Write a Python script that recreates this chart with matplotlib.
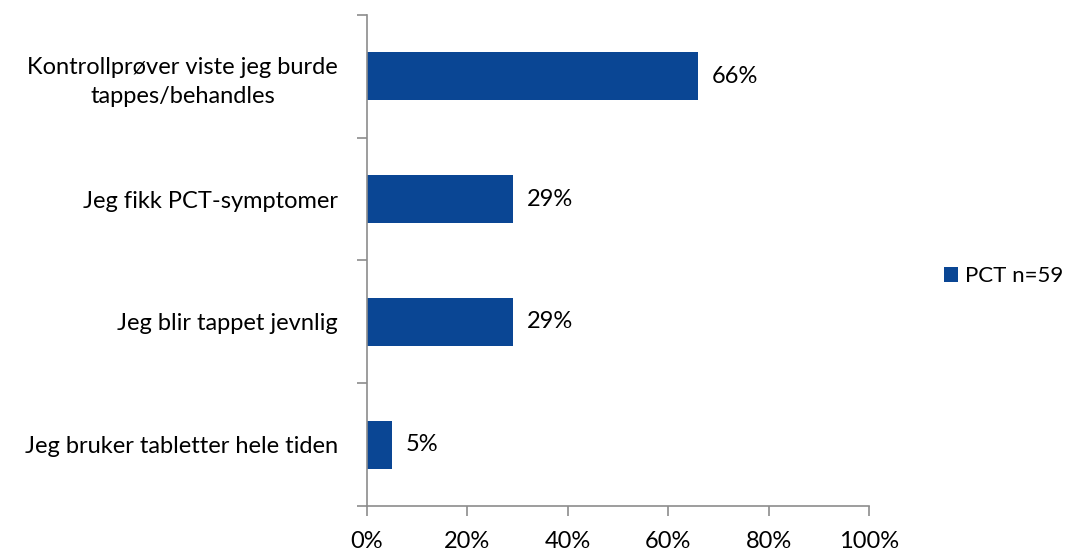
import numpy as np
import matplotlib.pyplot as plt
from matplotlib.ticker import FixedLocator

plt.rcParams['font.family'] = ['Lato', 'DejaVu Sans']

categories = ["Kontrollprøver viste jeg burde\ntappes/behandles",
              "Jeg fikk PCT-symptomer",
              "Jeg blir tappet jevnlig",
              "Jeg bruker tabletter hele tiden"]
values = [0.66, 0.29, 0.29, 0.05]
series_name = "PCT n=59"
xticks = [0, 0.2, 0.4, 0.6, 0.8, 1.0]
xticklabels = ["0%", "20%", "40%", "60%", "80%", "100%"]

color = "#0A4694"
grey = "#8C8C8C"
fs = 17

fig = plt.figure(figsize=(10.65, 5.51), dpi=100)
ax = fig.add_axes([0.3446, 0.0817, 0.4714, 0.8911])

y = np.arange(len(categories))
bars = ax.barh(y, values, height=0.39, color=color, label=series_name)
ax.set_ylim(len(categories) - 0.5, -0.5)
ax.set_xlim(0, 1)

for yi, v in zip(y, values):
    ax.annotate("%d%%" % round(v * 100), (v, yi), xytext=(10, 0),
                textcoords="offset points", va="center", ha="left", fontsize=fs)

ax.set_yticks(y)
ax.set_yticklabels(categories, fontsize=fs, ha="right", multialignment="center",
                   linespacing=1.45)
ax.tick_params(axis="y", which="major", length=0, pad=21)
ax.yaxis.set_minor_locator(FixedLocator(np.arange(-0.5, len(categories), 1.0)))
ax.tick_params(axis="y", which="minor", length=7, color=grey, width=1.2)

ax.set_xticks(xticks)
ax.set_xticklabels(xticklabels, fontsize=fs)
ax.tick_params(axis="x", length=7, color=grey, width=1.2, pad=11)

for s in ["top", "right"]:
    ax.spines[s].set_visible(False)
for s in ["left", "bottom"]:
    ax.spines[s].set_color(grey)
    ax.spines[s].set_linewidth(1.2)

fig.legend(handles=[bars], labels=[series_name], loc="center left",
           bbox_to_anchor=(0.886, 0.499), frameon=False, fontsize=16,
           borderpad=0, borderaxespad=0,
           handlelength=0.65, handleheight=0.65, handletextpad=0.3)

fig.savefig("out.png", dpi=100)
